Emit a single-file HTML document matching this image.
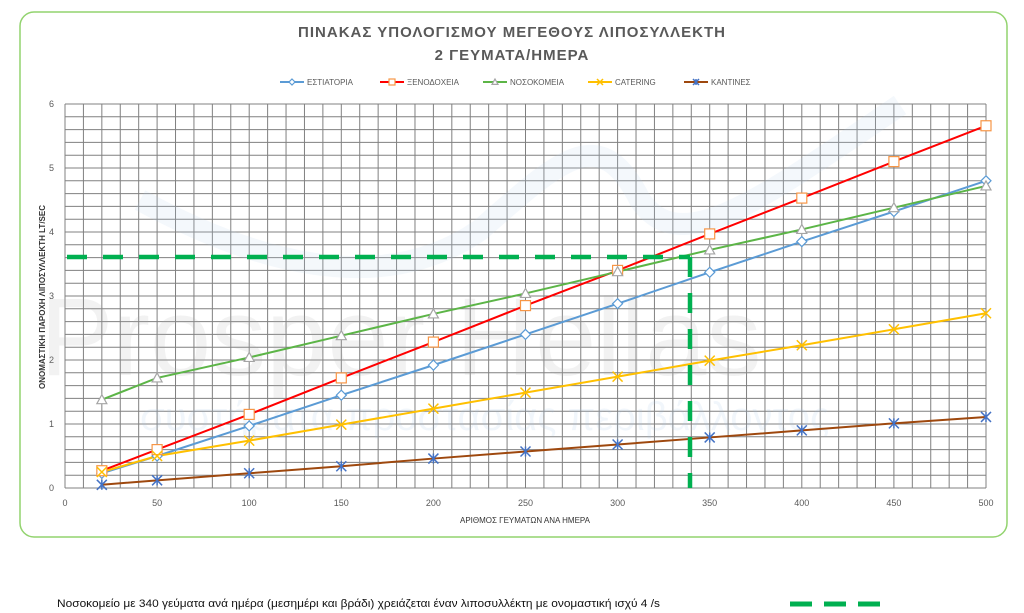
<!DOCTYPE html>
<html><head><meta charset="utf-8">
<style>
html,body{margin:0;padding:0;background:#fff;width:1024px;height:613px;overflow:hidden;font-family:"Liberation Sans",sans-serif;}
</style></head>
<body>
<svg id="s" width="1024" height="613" xmlns="http://www.w3.org/2000/svg" font-family="Liberation Sans, DejaVu Sans, sans-serif">
<rect x="20" y="12" width="987" height="525" rx="14" fill="#fff" stroke="#92d36e" stroke-width="1.5"/>
<text x="512" y="37" text-anchor="middle" font-size="15" font-weight="bold" fill="#595959" letter-spacing="1">ΠΙΝΑΚΑΣ ΥΠΟΛΟΓΙΣΜΟΥ ΜΕΓΕΘΟΥΣ ΛΙΠΟΣΥΛΛΕΚΤΗ</text>
<text x="512" y="60" text-anchor="middle" font-size="15" font-weight="bold" fill="#595959" letter-spacing="1">2 ΓΕΥΜΑΤΑ/ΗΜΕΡΑ</text>
<g id="grid"></g>
<g id="wm" opacity="0.15">
<path d="M140,200 C250,260 380,300 480,230 C560,160 600,120 640,200 C680,260 760,200 900,105" fill="none" stroke="#b8d3ea" stroke-width="22"/>
<text x="40" y="375" font-size="110" fill="#aaa" font-weight="normal">Prosper Hellas</text>
<text x="140" y="430" font-size="40" fill="#a9c8e8">συστήματα προστασίας περιβάλλοντος</text>
</g>
<g id="series"></g>
<text x="525" y="523" text-anchor="middle" font-size="8" fill="#333">ΑΡΙΘΜΟΣ ΓΕΥΜΑΤΩΝ ΑΝΑ ΗΜΕΡΑ</text>
<text transform="translate(45,297) rotate(-90)" text-anchor="middle" font-size="8" font-weight="bold" fill="#333">ΟΝΟΜΑΣΤΙΚΗ ΠΑΡΟΧΗ ΛΙΠΟΣΥΛΛΕΚΤΗ  LT/SEC</text>
<g id="legend" font-size="8" fill="#595959"></g>
<text x="57" y="607" font-size="11" fill="#111" textLength="603" lengthAdjust="spacingAndGlyphs">Νοσοκομείο με 340 γεύματα ανά ημέρα (μεσημέρι και βράδι) χρειάζεται έναν λιποσυλλέκτη με ονομαστική ισχύ 4 /s</text>
<line x1="790" y1="604" x2="880" y2="604" stroke="#00b050" stroke-width="5" stroke-dasharray="22,12"/>
</svg>
<script>
var NS="http://www.w3.org/2000/svg";
function el(t,a,p){var e=document.createElementNS(NS,t);for(var k in a)e.setAttribute(k,a[k]);p.appendChild(e);return e;}
function X(x){return 65+x*1.842;} function Y(v){return 488-v*64;}
var g=document.getElementById('grid');
for(var i=0;i<=30;i++){el('line',{x1:65,x2:986,y1:Y(i*0.2),y2:Y(i*0.2),stroke:'#808080','stroke-width':1},g);}
for(var i=0;i<=50;i++){el('line',{x1:X(i*10),x2:X(i*10),y1:Y(0),y2:Y(6),stroke:'#808080','stroke-width':1},g);}
for(var i=0;i<=6;i++){var t=el('text',{x:54,y:Y(i)+3,'text-anchor':'end','font-size':9,fill:'#595959'},g);t.textContent=i;}
for(var i=0;i<=10;i++){var t=el('text',{x:X(i*50),y:506,'text-anchor':'middle','font-size':9,fill:'#595959'},g);t.textContent=i*50;}
var xs=[20,50,100,150,200,250,300,350,400,450,500];
var S=[
{n:'ΕΣΤΙΑΤΟΡΙΑ',c:'#5b9bd5',m:'diamond',mc:'#5b9bd5',d:[0.23,0.5,0.97,1.45,1.92,2.4,2.88,3.37,3.85,4.32,4.8]},
{n:'ΞΕΝΟΔΟΧΕΙΑ',c:'#ff0000',m:'square',mc:'#f79646',d:[0.27,0.6,1.15,1.72,2.28,2.85,3.4,3.97,4.53,5.1,5.66]},
{n:'ΝΟΣΟΚΟΜΕΙΑ',c:'#5cb547',m:'tri',mc:'#a5a5a5',d:[1.38,1.72,2.04,2.38,2.72,3.04,3.38,3.72,4.04,4.38,4.72]},
{n:'CATERING',c:'#ffc000',m:'x',mc:'#ffc000',d:[0.25,0.5,0.74,0.99,1.24,1.49,1.74,1.99,2.23,2.48,2.73]},
{n:'ΚΑΝΤΙΝΕΣ',c:'#9e480e',m:'star',mc:'#4472c4',d:[0.05,0.12,0.23,0.34,0.46,0.57,0.68,0.79,0.9,1.01,1.11]}];
var sg=document.getElementById('series');
function marker(m,c,x,y,p,sz){sz=sz||5;
 if(m=='diamond')el('path',{d:'M'+x+','+(y-sz)+'L'+(x+sz)+','+y+'L'+x+','+(y+sz)+'L'+(x-sz)+','+y+'Z',fill:'#fff',stroke:c,'stroke-width':1.2},p);
 if(m=='square')el('rect',{x:x-sz,y:y-sz,width:2*sz,height:2*sz,fill:'#fff',stroke:c,'stroke-width':1.2},p);
 if(m=='tri')el('path',{d:'M'+x+','+(y-sz)+'L'+(x+sz)+','+(y+sz*0.8)+'L'+(x-sz)+','+(y+sz*0.8)+'Z',fill:'#fff',stroke:c,'stroke-width':1.2},p);
 if(m=='x'||m=='star'){el('path',{d:'M'+(x-sz)+','+(y-sz)+'L'+(x+sz)+','+(y+sz)+'M'+(x+sz)+','+(y-sz)+'L'+(x-sz)+','+(y+sz)+(m=='star'?'M'+x+','+(y-sz)+'L'+x+','+(y+sz):''),stroke:c,'stroke-width':1.5,fill:'none'},p);}
}
S.forEach(function(s){var pts=xs.map(function(x,i){return X(x)+','+Y(s.d[i]);}).join(' ');
 el('polyline',{points:pts,fill:'none',stroke:s.c,'stroke-width':2},sg);});
S.forEach(function(s){xs.forEach(function(x,i){marker(s.m,s.mc,X(x),Y(s.d[i]),sg);});});
el('line',{x1:67,x2:690,y1:257,y2:257,stroke:'#00b050','stroke-width':4.5,'stroke-dasharray':'20,16'},sg);
el('line',{x1:690,x2:690,y1:257,y2:488,stroke:'#00b050','stroke-width':4.5,'stroke-dasharray':'20,16'},sg);
var lg=document.getElementById('legend');var lx=[280,380,483,588,684];
S.forEach(function(s,i){var x=lx[i];el('line',{x1:x,x2:x+24,y1:82,y2:82,stroke:s.c,'stroke-width':2},lg);marker(s.m,s.mc,x+12,82,lg,3);
 var t=el('text',{x:x+27,y:85,'font-size':8,fill:'#595959'},lg);t.textContent=s.n;});
</script>
</body></html>
